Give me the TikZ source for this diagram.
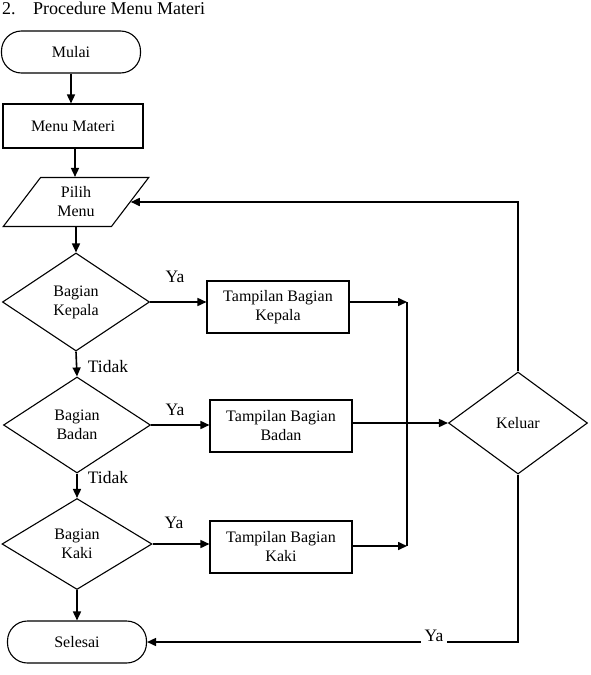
\documentclass[tikz,border=0pt]{standalone}
\usepackage{fontspec}
\setmainfont{Liberation Serif}
\usetikzlibrary{shapes.geometric,arrows.meta}
\begin{document}
\begin{tikzpicture}[x=1pt,y=-1pt,
  txt/.style={font=\fontsize{16}{19}\selectfont, align=center},
  lbl/.style={font=\fontsize{17.5}{20}\selectfont, inner sep=1pt},
  term/.style={txt, draw, line width=1.1pt, rounded corners=20pt, minimum width=139pt, minimum height=42pt, inner sep=0pt},
  proc/.style={txt, draw, line width=1.1pt, minimum width=142pt, minimum height=52pt, inner sep=0pt},
  dec/.style={txt, draw, line width=1.1pt, diamond, inner sep=0pt, minimum width=147pt, minimum height=96pt},
  io/.style={txt, draw, line width=1.1pt, trapezium, trapezium left angle=57, trapezium right angle=123, trapezium stretches=true, minimum width=146pt, minimum height=49pt, inner sep=0pt},
  conn/.style={line width=1.6pt, -{Triangle[length=9pt,width=8pt]}},
  plain/.style={line width=1.6pt}
]
\clip (0,0) rectangle (591,675);
\fill[white] (0,0) rectangle (591,675);
% title
\node[anchor=base west, inner sep=0pt, font=\fontsize{18}{20}\selectfont] (num) at (2,14) {2.};
\node[anchor=base west, inner sep=0pt, font=\fontsize{18}{20}\selectfont] (title) at (33,14) {Procedure Menu Materi};
% nodes
\node[term] (mulai) at (71,52) {Mulai};
\node[proc, minimum width=140pt, minimum height=44pt] (menu) at (73,126) {Menu Materi};
\node[io] (pilih) at (76,202) {Pilih\\Menu};
\node[dec, minimum height=98pt] (kepala) at (76,302) {Bagian\\Kepala};
\node[dec] (badan) at (77,425) {Bagian\\Badan};
\node[dec, minimum width=150pt, minimum height=91pt] (kaki) at (77,544) {Bagian\\Kaki};
\node[term] (selesai) at (77,642) {Selesai};
\node[proc] (tk) at (278,307) {Tampilan Bagian\\Kepala};
\node[proc] (tb) at (281,426) {Tampilan Bagian\\Badan};
\node[proc] (tka) at (281,547) {Tampilan Bagian\\Kaki};
\node[dec, minimum width=139pt, minimum height=102pt] (keluar) at (518,423) {Keluar};
% bus coordinates
\coordinate (bt) at (407,302);
\coordinate (bb) at (407,546);
% connectors
\draw[conn] (mulai) -- (mulai.south |- menu.north);
\draw[conn] (menu.south -| 75,0) -- (75,0 |- pilih.north);
\draw[conn] (pilih.south) -- (kepala.north);
\draw[conn] (kepala.south) -- (badan.north);
\draw[conn] (badan.south) -- (kaki.north);
\draw[conn] (kaki.south) -- (selesai.north);
\draw[conn] (kepala.east) -- (tk.west |- kepala.east);
\draw[conn] (badan.east) -- (tb.west |- badan.east);
\draw[conn] (kaki.east) -- (tka.west |- kaki.east);
\draw[conn] (tk.east |- bt) -- (bt);
\draw[conn] (tka.east |- bb) -- (bb);
\draw[plain] (bt) -- (bb);
\draw[conn] (tb.east |- keluar.west) -- (keluar.west);
\draw[conn] (keluar.north) |- (pilih.east);
\draw[conn] (keluar.south) |- (selesai.east);
% labels
\node[lbl] (ya1) at (175,277) {Ya};
\node[lbl] (ya2) at (175,410) {Ya};
\node[lbl] (ya3) at (174,523) {Ya};
\node[lbl] (td1) at (108,367) {Tidak};
\node[lbl] (td2) at (108,478) {Tidak};
\node[lbl, fill=white, inner xsep=4pt] (ya4) at (434,636) {Ya};
\end{tikzpicture}
\end{document}
